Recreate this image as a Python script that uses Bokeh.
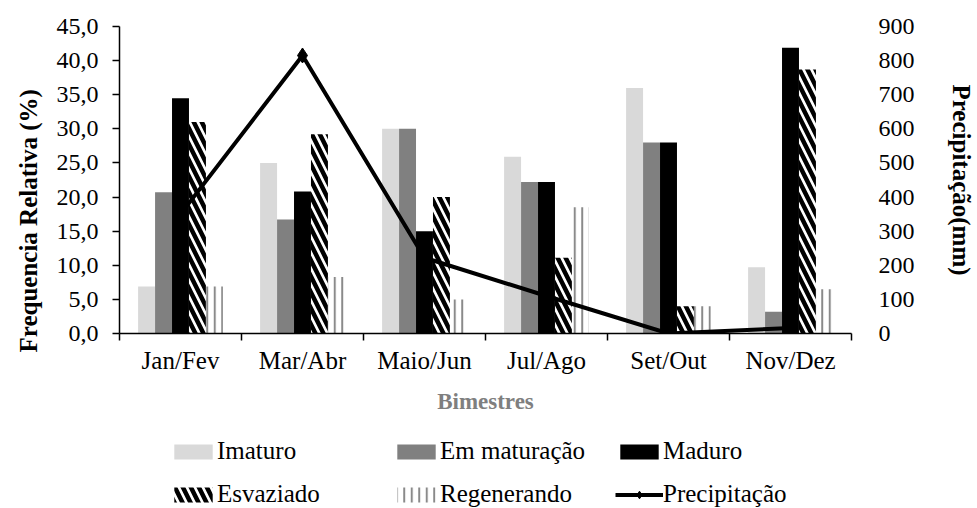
import numpy as np
from bokeh.plotting import figure
from bokeh.layouts import column
from bokeh.models import Range1d, LinearAxis, FixedTicker, Legend, LegendItem, Title
from bokeh.embed import file_html
from bokeh.resources import INLINE

# Bimonthly periods and relative frequency (%) of each gonadal stage
bimestres = ["Jan/Fev", "Mar/Abr", "Maio/Jun", "Jul/Ago", "Set/Out", "Nov/Dez"]
imaturo = [6.9, 25.0, 30.0, 25.9, 36.0, 9.7]
em_maturacao = [20.7, 16.7, 30.0, 22.2, 28.0, 3.2]
maduro = [34.5, 20.8, 15.0, 22.2, 28.0, 41.9]
esvaziado = [31.0, 29.2, 20.0, 11.1, 4.0, 38.7]
regenerando = [6.9, 8.3, 5.0, 18.5, 4.0, 6.5]

# Accumulated rainfall per period (mm)
precipitacao = [350, 815, 222, 110, 0, 16]

freq_ticks = [0, 5, 10, 15, 20, 25, 30, 35, 40, 45]
precip_ticks = [0, 100, 200, 300, 400, 500, 600, 700, 800, 900]

SERIF = "Liberation Serif"
TICK_FS = "24px"
CAT_FS = "25px"
TITLE_FS = "25px"
LEG_FS = "25px"
n = len(bimestres)
centers = np.arange(n) + 0.5
bar_w = 0.139

series = [
    ("Imaturo", imaturo, dict(fill_color="#d9d9d9")),
    ("Em maturação", em_maturacao, dict(fill_color="#808080")),
    ("Maduro", maduro, dict(fill_color="black")),
    ("Esvaziado", esvaziado, dict(fill_color="white", hatch_pattern="left_diagonal_line",
                                  hatch_color="black", hatch_weight=4.5, hatch_scale=16)),
    ("Regenerando", regenerando, dict(fill_color="white", hatch_pattern="vertical_line",
                                      hatch_color="#8a8a8a", hatch_weight=2, hatch_scale=7.5)),
]
line_style = dict(line_color="black", line_width=4)
marker_style = dict(marker="diamond", size=15, fill_color="black", line_color="black")


def draw_series(fig, visible=True):
    out = {}
    for k, (name, vals, style) in enumerate(series):
        xs = centers + (k - 2) * bar_w
        out[name] = [fig.vbar(x=xs, top=vals, bottom=0, width=bar_w, line_color=None,
                              visible=visible, **style)]
    out["Precipitação"] = [
        fig.line(centers, precipitacao, y_range_name="precip", visible=visible, **line_style),
        fig.scatter(centers, precipitacao, y_range_name="precip", visible=visible, **marker_style),
    ]
    return out


# ---- main chart ----
p = figure(width=977, height=416, x_range=Range1d(0, n), y_range=Range1d(0, 45),
           output_backend="svg", toolbar_location=None,
           min_border_left=117, min_border_right=118,
           min_border_top=26, min_border_bottom=77)
p.extra_y_ranges = {"precip": Range1d(0, 900)}
p.outline_line_color = None
p.xgrid.visible = False
p.ygrid.visible = False
draw_series(p)

# x axis: labels at category centres, boundary ticks as minor ticks
xa = p.xaxis[0]
xa.ticker = FixedTicker(ticks=list(centers), minor_ticks=list(range(n + 1)))
xa.major_label_overrides = {float(c): lab for c, lab in zip(centers, bimestres)}
xa.major_tick_out = 0
xa.major_tick_in = 0
xa.minor_tick_out = 7
xa.minor_tick_in = 0
xa.minor_tick_line_color = "black"
xa.minor_tick_line_width = 1.5
xa.axis_line_color = "black"
xa.axis_line_width = 1.5
xa.major_label_text_font = SERIF
xa.major_label_text_font_size = CAT_FS
xa.major_label_text_color = "black"
xa.major_label_standoff = 6
xa.axis_label = "Bimestres"
xa.axis_label_text_font = SERIF
xa.axis_label_text_font_style = "bold"
xa.axis_label_text_font_size = "23px"
xa.axis_label_text_color = "#7f7f7f"
xa.axis_label_standoff = 12

ya = p.yaxis[0]
ya.ticker = FixedTicker(ticks=freq_ticks, minor_ticks=[])
ya.major_label_overrides = {t: f"{t:.1f}".replace(".", ",") for t in freq_ticks}
ya.major_tick_out = 7
ya.major_tick_in = 0
ya.major_tick_line_color = "black"
ya.major_tick_line_width = 1.5
ya.axis_line_color = "black"
ya.axis_line_width = 1.5
ya.major_label_text_font = SERIF
ya.major_label_text_font_size = TICK_FS
ya.major_label_text_color = "black"
ya.major_label_standoff = 14

yr = LinearAxis(y_range_name="precip", ticker=FixedTicker(ticks=precip_ticks, minor_ticks=[]))
yr.axis_line_color = None
yr.major_tick_line_color = None
yr.minor_tick_line_color = None
yr.major_label_text_font = SERIF
yr.major_label_text_font_size = TICK_FS
yr.major_label_text_color = "black"
yr.major_label_standoff = 21
yr.axis_label = "Precipitação(mm)"
yr.axis_label_text_font = SERIF
yr.axis_label_text_font_style = "bold"
yr.axis_label_text_font_size = TITLE_FS
yr.axis_label_text_color = "black"
yr.axis_label_standoff = 30
p.add_layout(yr, "right")

# left axis title as a side title, starting a little below the baseline
p.add_layout(Title(text="Frequencia Relativa (%)", align="left", offset=-19, standoff=24,
                   text_font=SERIF, text_font_style="bold", text_font_size=TITLE_FS,
                   text_color="black"), "left")

# ---- legend strip, two rows of three entries ----
leg = figure(width=977, height=92, x_range=Range1d(0, n), y_range=Range1d(0, 45),
             x_axis_type=None, y_axis_type=None, output_backend="svg",
             toolbar_location=None, min_border=0)
leg.extra_y_ranges = {"precip": Range1d(0, 900)}
leg.outline_line_color = None
leg.xgrid.visible = False
leg.ygrid.visible = False
proxies = draw_series(leg, visible=False)


def legend_row(names, loc):
    items = [LegendItem(label=nm, renderers=proxies[nm]) for nm in names]
    return Legend(items=items, orientation="horizontal", location=loc,
                  label_text_font=SERIF, label_text_font_size=LEG_FS, label_text_color="black",
                  glyph_width=48, glyph_height=19, label_standoff=0, label_width=175,
                  label_height=24, spacing=0, padding=0, margin=0,
                  inactive_fill_alpha=0, background_fill_alpha=0, border_line_color=None)


leg.add_layout(legend_row(["Imaturo", "Em maturação", "Maduro"], (50, 43)), "center")
leg.add_layout(legend_row(["Esvaziado", "Regenerando", "Precipitação"], (50, 0)), "center")

layout = column(p, leg, spacing=0)
open("out.html", "w").write(file_html(layout, INLINE))
